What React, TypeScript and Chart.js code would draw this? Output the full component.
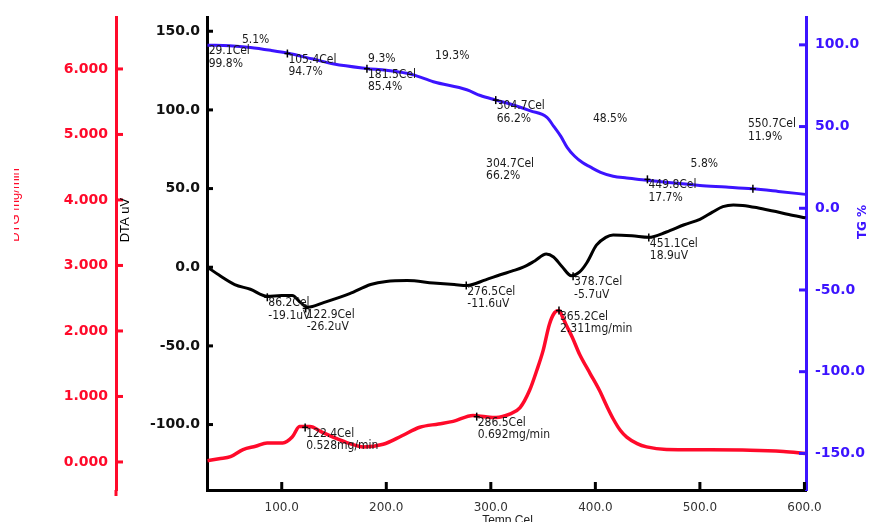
import React, { useEffect, useRef } from "react";
import { Chart, registerables } from "chart.js";

Chart.register(...registerables);

// Tick labels
const X_TICKS = [100, 200, 300, 400, 500, 600];
const DTA_TICKS = [-100, -50, 0, 50, 100, 150];
const DTG_TICKS = [0, 1, 2, 3, 4, 5, 6];
const TG_TICKS = [-150, -100, -50, 0, 50, 100];

// TG (%) curve
const TG_TEMP = [29, 50, 70, 90, 105, 130, 150, 181, 200, 225, 245, 277, 290, 305, 320, 338, 353.7, 360, 367, 373, 380, 388, 395, 405, 417, 430, 447, 470, 500, 525, 550, 575, 601];
const TG_PCT = [99.8, 99.5, 98.4, 96.6, 95, 91.3, 88.3, 85.6, 84.4, 81.8, 77.4, 72.5, 69, 66.2, 63.5, 59.6, 55.6, 50.3, 44, 37.3, 32, 27.8, 25.3, 22, 19.6, 18.5, 17.3, 15.7, 14, 13, 11.9, 10.3, 8.5];

// DTA (uV) curve
const DTA_TEMP = [29, 40, 55, 70, 86, 100, 110, 118, 125, 140, 165, 185, 200, 220, 245, 265, 277, 295, 309, 320, 331, 342, 353, 360, 368, 377, 385, 392, 401, 410, 417, 435, 451, 468, 485, 500, 512, 522, 532, 541, 555, 570, 585, 601];
const DTA_UV = [0, -5, -11, -14, -18.5, -18, -18, -22.5, -25.5, -22.5, -16.8, -11, -9, -8.5, -10, -11, -11.6, -8, -4.8, -2.5, 0, 4, 8.4, 6.5, 0.5, -5.4, -3, 3, 14, 19, 20.5, 20, 19, 22.4, 27, 30.4, 35, 38.5, 39.6, 39.3, 37.8, 35.7, 33.5, 31.4];

// DTG (mg/min) curve
const DTG_TEMP = [29, 40, 51, 63, 75, 86, 101, 110, 117, 127, 138, 149, 165, 178, 197, 215, 232, 250, 264, 283, 295, 305, 318, 328, 337, 344, 350, 356, 361, 365.2, 369, 372.5, 378, 385, 395, 404, 411, 417, 424, 430, 440, 449, 468, 500, 548, 580, 601];
const DTG_RATE = [0.02, 0.05, 0.08, 0.19, 0.24, 0.29, 0.29, 0.38, 0.54, 0.54, 0.46, 0.38, 0.28, 0.23, 0.27, 0.4, 0.53, 0.58, 0.62, 0.71, 0.69, 0.68, 0.73, 0.83, 1.09, 1.4, 1.7, 2.1, 2.28, 2.311, 2.2, 2.08, 1.9, 1.64, 1.35, 1.09, 0.85, 0.66, 0.48, 0.38, 0.28, 0.23, 0.19, 0.185, 0.18, 0.16, 0.13];

// Marked points
const TG_MARK_TEMP = [105.4, 181.5, 304.7, 449.8, 550.7];
const TG_MARK_PCT = [94.7, 85.4, 66.2, 17.7, 11.9];
const DTA_MARK_TEMP = [86.2, 122.9, 276.5, 378.7, 451.1];
const DTA_MARK_UV = [-19.1, -26.2, -11.6, -5.7, 18.9];
const DTG_MARK_TEMP = [122.4, 286.5, 365.2];
const DTG_MARK_RATE = [0.528, 0.692, 2.311];

type Note = { axis: string; t: number; v: number; lines: string[]; onPoint: boolean };
const NOTES: Note[] = [
  { axis: "yTG", t: 29.1, v: 99.8, lines: ["29.1Cel", "99.8%"], onPoint: true },
  { axis: "yTG", t: 105.4, v: 94.7, lines: ["105.4Cel", "94.7%"], onPoint: true },
  { axis: "yTG", t: 181.5, v: 85.4, lines: ["181.5Cel", "85.4%"], onPoint: true },
  { axis: "yTG", t: 304.7, v: 66.2, lines: ["304.7Cel", "66.2%"], onPoint: true },
  { axis: "yTG", t: 449.8, v: 17.7, lines: ["449.8Cel", "17.7%"], onPoint: true },
  { axis: "yTG", t: 61.9, v: 103.1, lines: ["5.1%"], onPoint: false },
  { axis: "yTG", t: 182.6, v: 91.4, lines: ["9.3%"], onPoint: false },
  { axis: "yTG", t: 246.7, v: 93, lines: ["19.3%"], onPoint: false },
  { axis: "yTG", t: 397.7, v: 54.6, lines: ["48.5%"], onPoint: false },
  { axis: "yTG", t: 491.1, v: 27.3, lines: ["5.8%"], onPoint: false },
  { axis: "yTG", t: 295.4, v: 27.3, lines: ["304.7Cel", "66.2%"], onPoint: false },
  { axis: "yTG", t: 545.9, v: 51.5, lines: ["550.7Cel", "11.9%"], onPoint: false },
  { axis: "yDTA", t: 86.2, v: -19.1, lines: ["86.2Cel", "-19.1uV"], onPoint: true },
  { axis: "yDTA", t: 122.9, v: -26.2, lines: ["122.9Cel", "-26.2uV"], onPoint: true },
  { axis: "yDTA", t: 276.5, v: -11.6, lines: ["276.5Cel", "-11.6uV"], onPoint: true },
  { axis: "yDTA", t: 378.7, v: -5.7, lines: ["378.7Cel", "-5.7uV"], onPoint: true },
  { axis: "yDTA", t: 451.1, v: 18.9, lines: ["451.1Cel", "18.9uV"], onPoint: true },
  { axis: "yDTG", t: 122.4, v: 0.528, lines: ["122.4Cel", "0.528mg/min"], onPoint: true },
  { axis: "yDTG", t: 286.5, v: 0.692, lines: ["286.5Cel", "0.692mg/min"], onPoint: true },
  { axis: "yDTG", t: 365.2, v: 2.311, lines: ["365.2Cel", "2.311mg/min"], onPoint: true },
];

const RED = "#ff0a2a";
const BLUE = "#3c14ff";
const TICK_FONT = { family: "'DejaVu Sans', sans-serif", size: 14, weight: "bold" as const };

const toPoints = (xs: number[], ys: number[]) => xs.map((x, i) => ({ x, y: ys[i] }));

const overlay = {
  id: "overlay",
  afterDraw(chart: any) {
    const ctx: CanvasRenderingContext2D = chart.ctx;
    const s = chart.scales;
    const area = chart.chartArea;
    const seg = (x1: number, y1: number, x2: number, y2: number, color: string, w: number) => {
      ctx.beginPath();
      ctx.strokeStyle = color;
      ctx.lineWidth = w;
      ctx.moveTo(x1, y1);
      ctx.lineTo(x2, y2);
      ctx.stroke();
    };
    ctx.save();
    // inward ticks
    X_TICKS.forEach((v) => {
      const px = s.x.getPixelForValue(v);
      seg(px, area.bottom, px, area.bottom - 8, "#000", 3);
    });
    DTA_TICKS.forEach((v) => {
      const py = s.yDTA.getPixelForValue(v);
      seg(area.left, py, area.left + 6, py, "#000", 3);
    });
    TG_TICKS.forEach((v) => {
      const py = s.yTG.getPixelForValue(v);
      seg(area.right, py, area.right - 7, py, BLUE, 3);
    });
    DTG_TICKS.forEach((v) => {
      const py = s.yDTG.getPixelForValue(v);
      seg(s.yDTG.right, py, s.yDTG.right + 7, py, RED, 3);
    });
    // red axis extension below chart area
    seg(s.yDTG.right, area.bottom, s.yDTG.right, area.bottom + 6, RED, 3);

    // markers
    const cross = (px: number, py: number) => {
      seg(px, py - 4, px, py + 4, "#000", 1.5);
      seg(px - 3, py, px + 3, py, "#000", 1.5);
    };
    TG_MARK_TEMP.forEach((t, i) => cross(s.x.getPixelForValue(t), s.yTG.getPixelForValue(TG_MARK_PCT[i])));
    DTA_MARK_TEMP.forEach((t, i) => cross(s.x.getPixelForValue(t), s.yDTA.getPixelForValue(DTA_MARK_UV[i])));
    DTG_MARK_TEMP.forEach((t, i) => cross(s.x.getPixelForValue(t), s.yDTG.getPixelForValue(DTG_MARK_RATE[i])));

    // notes
    ctx.font = "12px 'DejaVu Sans Condensed', 'DejaVu Sans', sans-serif";
    ctx.fillStyle = "#1a1a1a";
    ctx.textAlign = "left";
    ctx.textBaseline = "middle";
    NOTES.forEach((n) => {
      let px = s.x.getPixelForValue(n.t);
      let py = s[n.axis].getPixelForValue(n.v);
      if (n.onPoint) {
        px += 1;
        py += 6;
      }
      n.lines.forEach((l, i) => ctx.fillText(l, px, py + i * 12.5));
    });

    // axis titles
    const vtext = (text: string, x: number, y: number, font: string, color: string) => {
      ctx.save();
      ctx.translate(x, y);
      ctx.rotate(-Math.PI / 2);
      ctx.font = font;
      ctx.fillStyle = color;
      ctx.textAlign = "center";
      ctx.textBaseline = "alphabetic";
      ctx.fillText(text, 0, 0);
      ctx.restore();
    };
    ctx.save();
    ctx.beginPath();
    ctx.rect(14, 0, 200, 522);
    ctx.clip();
    vtext("DTG mg/min", 19, 205, "13px 'Liberation Sans', sans-serif", RED);
    ctx.restore();
    vtext("DTA uV", 129, 220, "13px 'Liberation Sans', sans-serif", "#000");
    vtext("TG %", 866, 222, "bold 12px 'DejaVu Sans', sans-serif", BLUE);
    ctx.font = "12px 'Liberation Sans', sans-serif";
    ctx.fillStyle = "#222";
    ctx.textAlign = "center";
    ctx.textBaseline = "top";
    ctx.fillText("Temp Cel", (area.left + area.right) / 2 + 1, 515);
    ctx.restore();
  },
};

export default function App() {
  const ref = useRef<HTMLCanvasElement | null>(null);
  useEffect(() => {
    if (!ref.current) return;
    const chart = new Chart(ref.current, {
      type: "line",
      data: {
        datasets: [
          {
            label: "TG",
            data: toPoints(TG_TEMP, TG_PCT),
            borderColor: BLUE,
            borderWidth: 3,
            pointRadius: 0,
            cubicInterpolationMode: "monotone",
            xAxisID: "x",
            yAxisID: "yTG",
          },
          {
            label: "DTA",
            data: toPoints(DTA_TEMP, DTA_UV),
            borderColor: "#000",
            borderWidth: 3,
            pointRadius: 0,
            cubicInterpolationMode: "monotone",
            xAxisID: "x",
            yAxisID: "yDTA",
          },
          {
            label: "DTG",
            data: toPoints(DTG_TEMP, DTG_RATE),
            borderColor: RED,
            borderWidth: 3.5,
            pointRadius: 0,
            cubicInterpolationMode: "monotone",
            xAxisID: "x",
            yAxisID: "yDTG",
          },
        ],
      },
      options: {
        animation: false,
        responsive: false,
        parsing: false as any,
        layout: { padding: { top: 13, left: 0, right: 0, bottom: 0 } },
        plugins: { legend: { display: false }, tooltip: { enabled: false } },
        scales: {
          x: {
            type: "linear",
            min: 28.5,
            max: 601.5,
            grid: { display: false, drawTicks: false },
            border: { color: "#000", width: 3 },
            afterBuildTicks: (sc: any) => {
              sc.ticks = X_TICKS.map((v) => ({ value: v }));
            },
            afterFit: (sc: any) => {
              sc.height = 32;
            },
            ticks: {
              padding: 11,
              maxRotation: 0,
              color: "#333",
              font: { family: "'DejaVu Sans', sans-serif", size: 12 },
              callback: (v: any) => Number(v).toFixed(1),
            },
          },
          yDTA: {
            type: "linear",
            position: "left",
            weight: 1,
            min: -141.6,
            max: 158.8,
            grid: { display: false, drawTicks: false },
            border: { color: "#000", width: 3 },
            afterBuildTicks: (sc: any) => {
              sc.ticks = DTA_TICKS.map((v) => ({ value: v }));
            },
            afterFit: (sc: any) => {
              sc.width = 91;
            },
            ticks: {
              padding: 7,
              color: "#111",
              font: TICK_FONT,
              callback: (v: any) => Number(v).toFixed(1),
            },
          },
          yDTG: {
            type: "linear",
            position: "left",
            weight: 2,
            min: -0.428,
            max: 6.787,
            grid: { display: false, drawTicks: false },
            border: { color: RED, width: 3 },
            afterBuildTicks: (sc: any) => {
              sc.ticks = DTG_TICKS.map((v) => ({ value: v }));
            },
            afterFit: (sc: any) => {
              sc.width = 116;
            },
            ticks: {
              padding: 8,
              color: RED,
              font: TICK_FONT,
              callback: (v: any) => Number(v).toFixed(3),
            },
          },
          yTG: {
            type: "linear",
            position: "right",
            min: -172.4,
            max: 116.8,
            grid: { display: false, drawTicks: false },
            border: { color: BLUE, width: 3 },
            afterBuildTicks: (sc: any) => {
              sc.ticks = TG_TICKS.map((v) => ({ value: v }));
            },
            afterFit: (sc: any) => {
              sc.width = 63;
            },
            ticks: {
              padding: 9,
              color: BLUE,
              font: TICK_FONT,
              callback: (v: any) => Number(v).toFixed(1),
            },
          },
        },
      } as any,
      plugins: [overlay],
    });
    return () => chart.destroy();
  }, []);
  return (
    <div style={{ position: "absolute", left: 0, top: 0, width: 869, height: 522, background: "#fff" }}>
      <canvas ref={ref} width={869} height={522} style={{ display: "block" }} />
    </div>
  );
}
